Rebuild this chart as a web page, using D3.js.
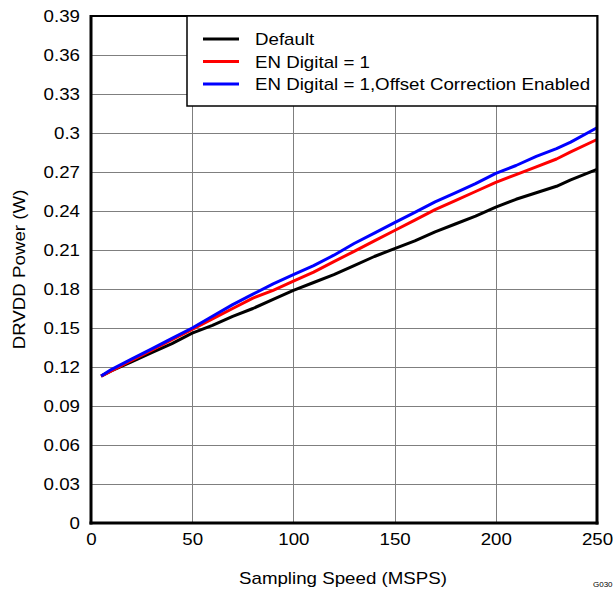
<!DOCTYPE html>
<html>
<head>
<meta charset="utf-8">
<script src="https://cdn.jsdelivr.net/npm/d3@7"></script>
<style>
  body { margin: 0; background: #fff; }
  text { font-family: "Liberation Sans", Arial, sans-serif; }
</style>
</head>
<body>
<svg id="chart" width="613" height="589"></svg>
<script>
const speeds = [5, 10, 20, 30, 40, 50, 60, 70, 80, 90, 100, 110, 120, 130, 140, 150, 160, 170, 180, 190, 200, 210, 220, 230, 237, 250]
const defaultPower = [0.113, 0.117, 0.124, 0.131, 0.138, 0.146, 0.152, 0.159, 0.165, 0.172, 0.179, 0.185, 0.191, 0.198, 0.205, 0.211, 0.217, 0.224, 0.230, 0.236, 0.243, 0.249, 0.254, 0.259, 0.264, 0.272]
const enDigitalPower = [0.113, 0.117, 0.125, 0.133, 0.141, 0.149, 0.157, 0.165, 0.173, 0.179, 0.186, 0.193, 0.201, 0.209, 0.217, 0.225, 0.233, 0.241, 0.248, 0.255, 0.262, 0.268, 0.274, 0.280, 0.2855, 0.295]
const offsetCorrPower = [0.113, 0.118, 0.126, 0.134, 0.142, 0.150, 0.159, 0.168, 0.176, 0.184, 0.191, 0.198, 0.206, 0.215, 0.223, 0.231, 0.239, 0.247, 0.254, 0.261, 0.269, 0.275, 0.282, 0.288, 0.293, 0.304]
const seriesNames = ["Default", "EN Digital = 1", "EN Digital = 1,Offset Correction Enabled"]
const seriesColors = ["#000000", "#ff0000", "#0000ff"]
const xTicks = [0, 50, 100, 150, 200, 250]
const yTicks = [0, 0.03, 0.06, 0.09, 0.12, 0.15, 0.18, 0.21, 0.24, 0.27, 0.3, 0.33, 0.36, 0.39]

const svg = d3.select('#chart')
const plotLeft = 91, plotRight = 597, plotTop = 16, plotBottom = 523
// the original text is a bit wider than Arial at this height
const stretch = 1.17

const x = d3.scaleLinear().domain([0, 250]).range([plotLeft, plotRight])
const y = d3.scaleLinear().domain([0, 0.39]).range([plotBottom, plotTop])

// grid
const grid = svg.append('g').attr('stroke', '#7f7f7f').attr('stroke-width', 1)
grid.selectAll('line.gx')
  .data(xTicks.slice(1, -1))
  .enter().append('line')
  .attr('x1', d => Math.round(x(d)) + 0.5).attr('x2', d => Math.round(x(d)) + 0.5)
  .attr('y1', plotTop).attr('y2', plotBottom)
grid.selectAll('line.gy')
  .data(yTicks.slice(1, -1))
  .enter().append('line')
  .attr('y1', d => Math.round(y(d)) + 0.5).attr('y2', d => Math.round(y(d)) + 0.5)
  .attr('x1', plotLeft).attr('x2', plotRight)

// axes (labels only, frame drawn separately)
const xAxis = svg.append('g')
  .attr('transform', `translate(0,${plotBottom})`)
  .call(d3.axisBottom(x).tickValues(xTicks).tickSize(0).tickPadding(11).tickFormat(d3.format('d')))
const yAxis = svg.append('g')
  .attr('transform', `translate(${plotLeft},0)`)
  .call(d3.axisLeft(y).tickValues(yTicks).tickSize(0).tickPadding(9.4).tickFormat(d => String(+d.toFixed(2))))
;[xAxis, yAxis].forEach(a => {
  a.select('.domain').remove()
  a.selectAll('text').attr('font-size', 16).attr('fill', '#000')
    .attr('transform', `scale(${stretch},1)`)
    .style('font-family', '"Liberation Sans", Arial, sans-serif')
})

// series
const allSeries = [defaultPower, enDigitalPower, offsetCorrPower]
const line = d3.line().x((d, i) => x(speeds[i])).y(d => y(d))
svg.append('g').selectAll('path')
  .data(allSeries)
  .enter().append('path')
  .attr('d', d => line(d))
  .attr('fill', 'none')
  .attr('stroke', (d, i) => seriesColors[i])
  .attr('stroke-width', 3)
  .attr('stroke-linejoin', 'round')

// frame
svg.append('rect')
  .attr('x', plotLeft).attr('y', plotTop)
  .attr('width', plotRight - plotLeft).attr('height', plotBottom - plotTop)
  .attr('fill', 'none').attr('stroke', '#000').attr('stroke-width', 2)
svg.append('line').attr('x1', plotLeft).attr('x2', plotLeft).attr('y1', plotTop - 1).attr('y2', plotBottom + 1.5)
  .attr('stroke', '#000').attr('stroke-width', 3)
svg.append('line').attr('x1', plotLeft - 1.5).attr('x2', plotRight + 1.5).attr('y1', plotBottom).attr('y2', plotBottom)
  .attr('stroke', '#000').attr('stroke-width', 3)
svg.append('line').attr('x1', plotRight).attr('x2', plotRight).attr('y1', plotTop - 1).attr('y2', plotBottom + 1.5)
  .attr('stroke', '#000').attr('stroke-width', 3)

// legend
const legend = svg.append('g')
legend.append('rect')
  .attr('x', 187).attr('y', plotTop).attr('width', plotRight - 187).attr('height', 90)
  .attr('fill', '#fff').attr('stroke', '#000').attr('stroke-width', 1.5)
const items = legend.selectAll('g.item')
  .data(seriesNames)
  .enter().append('g')
  .attr('transform', (d, i) => `translate(0,${39 + i * 22.5})`)
items.append('line')
  .attr('x1', 203).attr('x2', 239).attr('y1', 0).attr('y2', 0)
  .attr('stroke', (d, i) => seriesColors[i]).attr('stroke-width', 3)
items.append('text')
  .attr('transform', `translate(255,6) scale(${stretch},1)`)
  .attr('font-size', 16)
  .text(d => d)

// axis titles
svg.append('text')
  .attr('transform', `translate(343,584) scale(${stretch},1)`)
  .attr('text-anchor', 'middle').attr('font-size', 16)
  .text('Sampling Speed (MSPS)')
svg.append('text')
  .attr('transform', `translate(25,${(plotTop + plotBottom) / 2}) rotate(-90) scale(${stretch},1)`)
  .attr('text-anchor', 'middle').attr('font-size', 16)
  .text('DRVDD Power (W)')
svg.append('text')
  .attr('x', 593).attr('y', 587)
  .attr('font-size', 8)
  .text('G030')
</script>
</body>
</html>
